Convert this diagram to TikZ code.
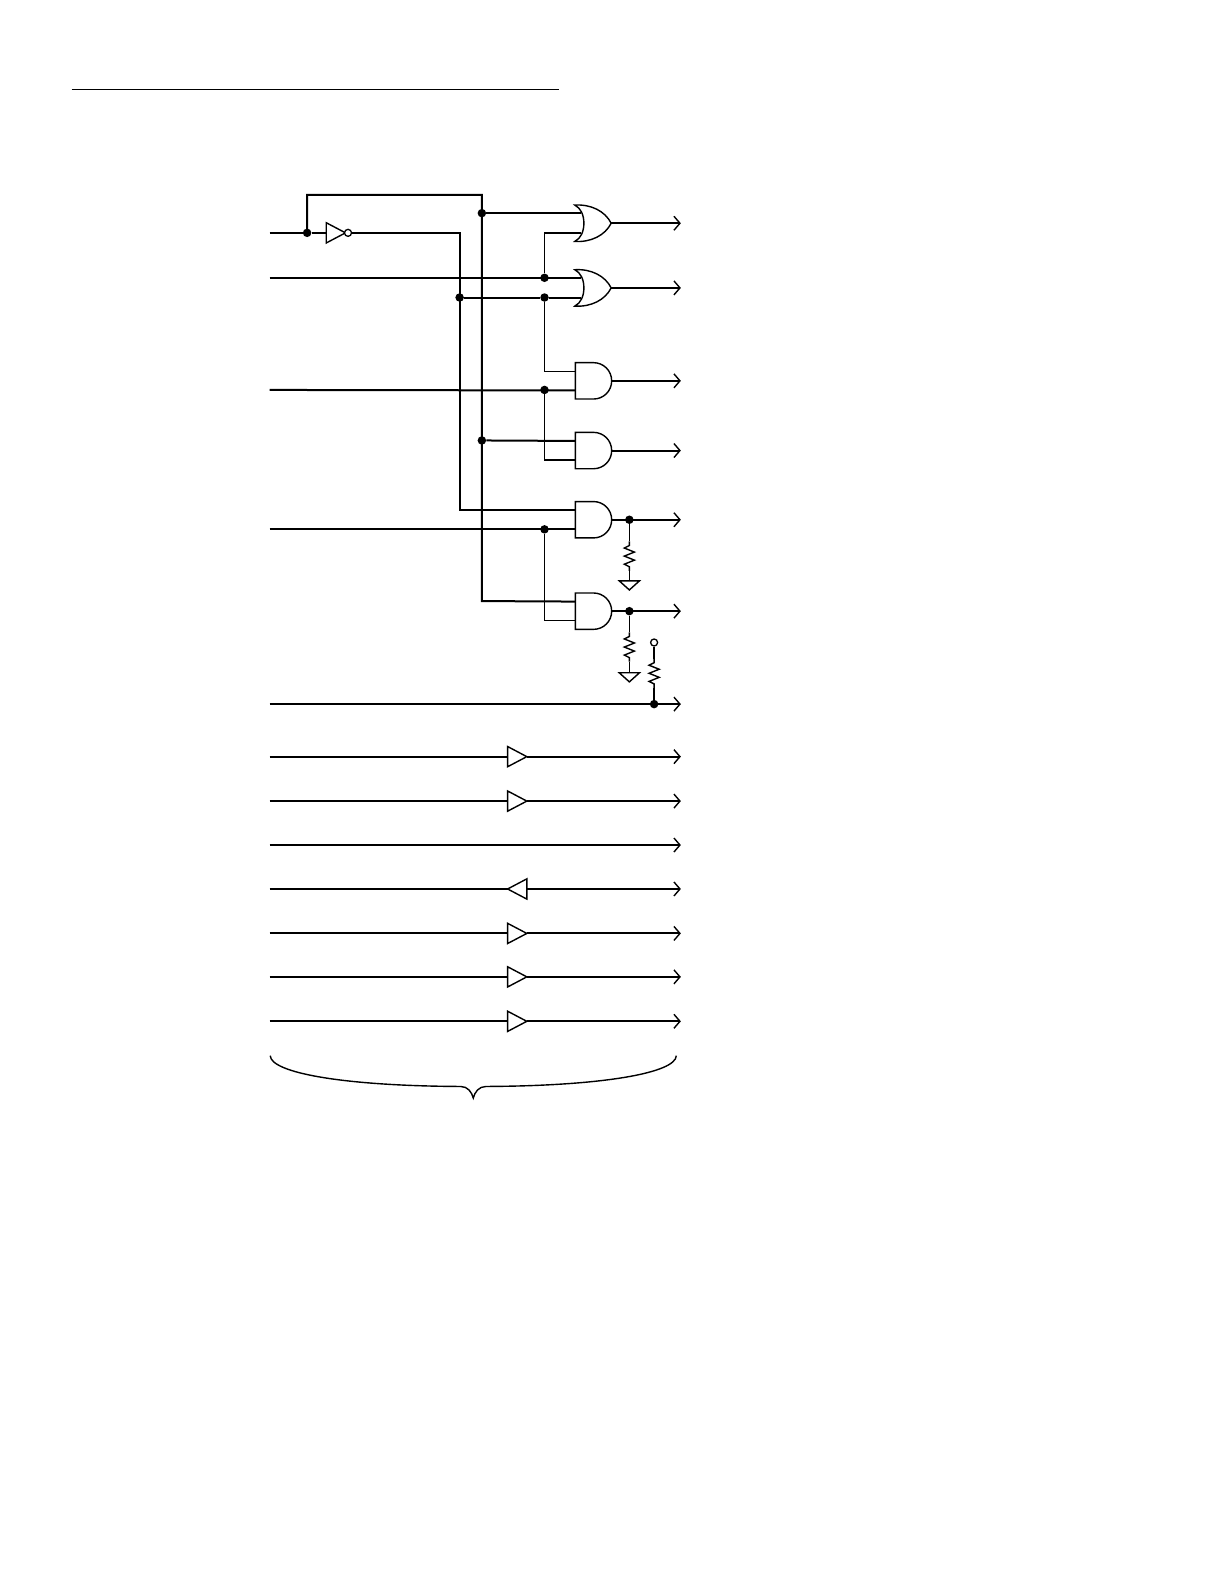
\documentclass[tikz,border=0pt]{standalone}
\usetikzlibrary{arrows.meta}

\tikzset{
  wire/.style={line width=2pt},
  thinwire/.style={line width=1.4pt},
  bus/.style={line width=2pt},
  outwire/.style={line width=2pt,-{Straight Barb[length=6pt,width=14pt,line width=1.4pt]}},
  dot/.style={circle,fill=black,inner sep=0pt,minimum size=8.5pt},
  bubble/.style={circle,draw=black,fill=white,line width=1.3pt,inner sep=0pt,minimum size=7pt},
  andgate/.pic={
    \draw[thinwire] (0,-18) -- (18,-18) .. controls (28,-18) and (36,-10) .. (36,0)
      .. controls (36,10) and (28,18) .. (18,18) -- (0,18) -- cycle;
    \coordinate (-up) at (0,-9.5);
    \coordinate (-down) at (0,9.5);
    \coordinate (-out) at (36,0);
  },
  orgate/.pic={
    \draw[thinwire] (0,-18) .. controls (16,-19) and (30,-12) .. (36,0)
      .. controls (30,12) and (16,19) .. (0,18)
      .. controls (6,15) and (9,8) .. (9,0) .. controls (9,-8) and (6,-15) .. (0,-18) -- cycle;
    \coordinate (-up) at (6.5,-10);
    \coordinate (-down) at (6.5,9.5);
    \coordinate (-out) at (36,0);
  },
  bufgate/.pic={
    \draw[thinwire] (0,-10) -- (19,0) -- (0,10) -- cycle;
    \coordinate (-in) at (0,0);
    \coordinate (-out) at (19,0);
  },
  revgate/.pic={
    \draw[thinwire] (19,-10) -- (0,0) -- (19,10) -- cycle;
    \coordinate (-in) at (0,0);
    \coordinate (-out) at (19,0);
  },
  resistor/.pic={
    \draw[thinwire] (0,0) -- (0,4) -- (-5,6.5) -- (5,10.5) -- (-5,14.5) -- (5,18.5) -- (-5,22.5) -- (0,25) -- (0,29);
    \coordinate (-top) at (0,0);
    \coordinate (-bot) at (0,29);
  },
  earth/.pic={
    \draw[thinwire] (-10,0) -- (10,0) -- (0,9) -- cycle;
    \coordinate (-top) at (0,0);
  }
}

\begin{document}
\begin{tikzpicture}[x=1.0102pt,y=-1.0102pt]
  \useasboundingbox (0pt,0pt) rectangle (1224pt,-1584pt);

  % rule at the top of the page
  \coordinate (ruleL) at (71,89);
  \coordinate (ruleR) at (553,89);
  \draw[line width=1.1pt] (ruleL) -- (ruleR);

  % gates
  \pic (or1) at (569,221) {orgate};
  \pic (or2) at (569,285) {orgate};
  \pic (and1) at (569.5,377) {andgate};
  \pic (and2) at (569.5,446) {andgate};
  \pic (and3) at (569.5,514.5) {andgate};
  \pic (and4) at (569.5,605) {andgate};

  % inputs
  \coordinate (inA) at (267,230.5);
  \coordinate (inB) at (267,275);
  \coordinate (inC) at (267,386);
  \coordinate (inD) at (267,524);
  \coordinate (inE) at (267,697);

  % inverter
  \pic (inv) at (323,230.5) {bufgate};
  \node[bubble] (invdot) at (344.5,230.5) {};

  \node[dot] (dA) at (304,230.5) {};
  \node[dot] (dT1) at (477,211) {};
  \node[dot] (dT2) at (477,436) {};
  \node[dot] (dN) at (455,294.5) {};
  \node[dot] (dB) at (539,275) {};
  \node[dot] (dN2) at (539,294.5) {};
  \node[dot] (dC) at (539,386) {};
  \node[dot] (dD) at (539,524) {};
  \node[dot] (dO5) at (623,514.5) {};
  \node[dot] (dO6) at (623,605) {};
  \node[dot] (dE) at (647.5,697) {};

  % true signal
  \draw[wire] (inA) -- (dA) -- (inv-in);
  \draw[bus] (dA.center) |- (477,193) -- (477,595) -- (and4-up);
  \draw[wire] (dT1) -- (or1-up);
  \draw[wire] (dT2) -- (and2-up);

  % inverted signal
  \draw[bus] (invdot) -| (455,505) -- (and3-up);
  \draw[bus] (dN) -- (dN2);
  \draw[wire] (dN2) -- (or2-down);

  % other inputs
  \draw[wire] (inB) -- (or2-up);
  \draw[wire] (inC) -- (and1-down);
  \draw[wire] (inD) -- (and3-down);
  \draw[thinwire] (dB) |- (or1-down);
  \draw[thinwire] (dN2) |- (and1-up);
  \draw[thinwire] (dC) |- (and2-down);
  \draw[thinwire] (dD) |- (and4-down);

  % outputs
  \coordinate (out1) at (674,221);
  \coordinate (out2) at (674,285);
  \coordinate (out3) at (674,377);
  \coordinate (out4) at (674,446);
  \coordinate (out5) at (674,514.5);
  \coordinate (out6) at (674,605);
  \coordinate (out7) at (674,697);
  \draw[outwire] (or1-out) -- (out1);
  \draw[outwire] (or2-out) -- (out2);
  \draw[outwire] (and1-out) -- (out3);
  \draw[outwire] (and2-out) -- (out4);
  \draw[outwire] (and3-out) -- (out5);
  \draw[outwire] (and4-out) -- (out6);
  \draw[outwire] (inE) -- (out7);

  % pull resistors
  \pic (r1) at (623,536) {resistor};
  \pic (g1) at (623,575) {earth};
  \draw[thinwire] (dO5) -- (r1-top);
  \draw[thinwire] (r1-bot) -- (g1-top);
  \pic (r2) at (623,626) {resistor};
  \pic (g2) at (623,666) {earth};
  \draw[thinwire] (dO6) -- (r2-top);
  \draw[thinwire] (r2-bot) -- (g2-top);
  \node[bubble] (vcc) at (647.5,636) {};
  \pic (r3) at (647.5,652) {resistor};
  \draw[thinwire] (vcc) -- (r3-top);
  \draw[thinwire] (r3-bot) -- (dE);

  % buffered lines
  \foreach \nm/\ypos in {a/749,b/793,c/924,d/967,e/1011}{
    \coordinate (in\nm) at (267,\ypos);
    \coordinate (out\nm) at (674,\ypos);
    \pic (buf\nm) at (502.5,\ypos) {bufgate};
    \draw[wire] (in\nm) -- (buf\nm-in);
    \draw[outwire] (buf\nm-out) -- (out\nm);
  }
  \coordinate (inf) at (267,836.5);
  \coordinate (outf) at (674,836.5);
  \draw[outwire] (inf) -- (outf);
  \coordinate (ing) at (267,880);
  \coordinate (outg) at (674,880);
  \pic (bufg) at (502.5,880) {revgate};
  \draw[wire] (ing) -- (bufg-in);
  \draw[outwire] (bufg-out) -- (outg);

  % brace
  \coordinate (braceL) at (267.5,1045);
  \coordinate (braceR) at (669.5,1045);
  \coordinate (braceT) at (468.5,1087);
  \draw[thinwire] (braceL) .. controls (268,1062) and (340,1075) .. (456,1075.5)
    .. controls (463,1075.5) and (467,1081) .. (braceT)
    .. controls (470,1081) and (474,1075.5) .. (481,1075.5)
    .. controls (597,1075) and (669,1062) .. (braceR);
\end{tikzpicture}
\end{document}
